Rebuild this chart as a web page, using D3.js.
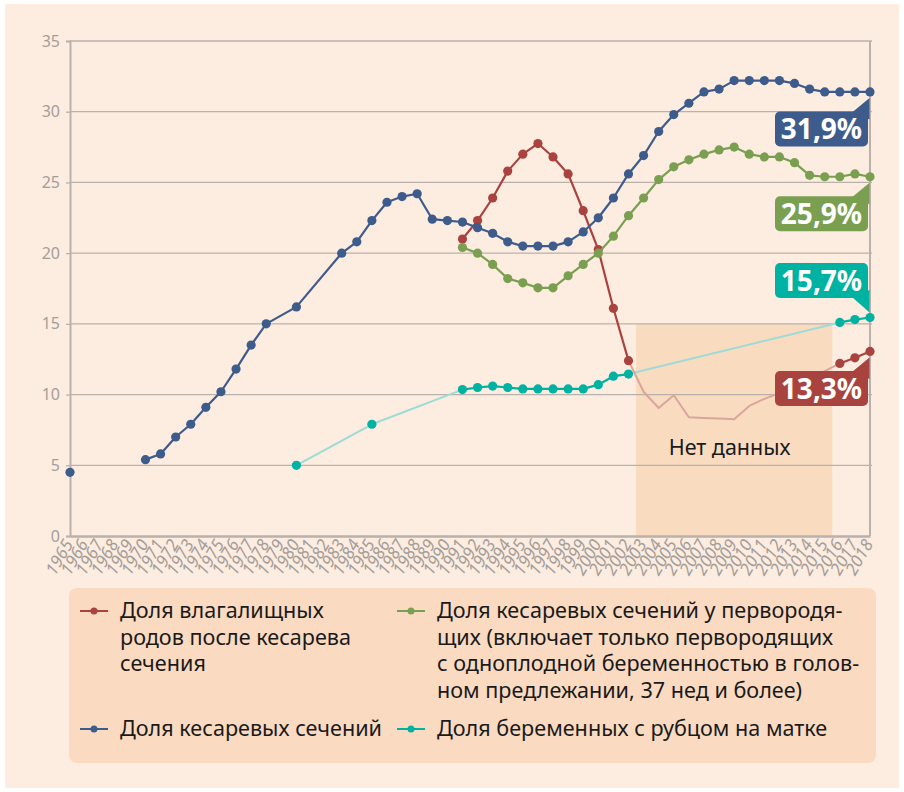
<!DOCTYPE html>
<html>
<head>
<meta charset="utf-8">
<script src="https://cdn.jsdelivr.net/npm/d3@7"></script>
<style>
  html, body { margin: 0; padding: 0; background: #ffffff; }
  svg { display: block; }
  text { font-family: "Noto Sans", "Open Sans", sans-serif; }
</style>
</head>
<body>
<svg id="chart" width="904" height="792"></svg>
<script>
// ---------------- DATA ----------------
const years = [1965,1966,1967,1968,1969,1970,1971,1972,1973,1974,1975,1976,1977,1978,1979,1980,
  1981,1982,1983,1984,1985,1986,1987,1988,1989,1990,1991,1992,1993,1994,1995,1996,1997,1998,1999,
  2000,2001,2002,2003,2004,2005,2006,2007,2008,2009,2010,2011,2012,2013,2014,2015,2016,2017,2018];

const yTicks = [0, 5, 10, 15, 20, 25, 30, 35];

// Доля кесаревых сечений
const csValues = [4.5,null,null,null,null,5.4,5.8,7.0,7.9,9.1,10.2,11.8,13.5,15.0,null,16.2,
  null,null,20.0,20.8,22.3,23.6,24.0,24.2,22.4,22.3,22.2,21.8,21.4,20.8,20.5,20.5,20.5,20.8,21.5,
  22.5,23.9,25.6,26.9,28.6,29.8,30.6,31.4,31.6,32.2,32.2,32.2,32.2,32.0,31.6,31.4,31.4,31.4,31.4];
const csLineStart = 1970;

// Доля влагалищных родов после кесарева сечения
const vbacValues = [null,null,null,null,null,null,null,null,null,null,null,null,null,null,null,null,
  null,null,null,null,null,null,null,null,null,null,21.0,22.3,23.9,25.8,27.0,27.75,26.8,25.6,23.0,
  20.25,16.1,12.4,null,null,null,null,null,null,null,null,null,null,null,null,null,12.2,12.6,13.05];
// no-data period (drawn faded, no markers)
const vbacGapYears = [2003,2004,2005,2006,2007,2008,2009,2010,2011,2012,2013,2014,2015];
const vbacGapValues = [10.2,9.05,9.95,8.4,8.35,8.3,8.25,9.2,9.7,10.1,10.6,11.1,11.65];
const vbacFaded = [[2002, 2016]];

// Доля кесаревых сечений у первородящих
const nulliValues = [null,null,null,null,null,null,null,null,null,null,null,null,null,null,null,null,
  null,null,null,null,null,null,null,null,null,null,20.4,20.0,19.2,18.2,17.9,17.55,17.55,18.4,19.2,
  20.0,21.2,22.65,23.9,25.2,26.1,26.6,27.0,27.3,27.5,27.0,26.8,26.8,26.4,25.5,25.4,25.4,25.6,25.4];

// Доля беременных с рубцом на матке
const scarValues = [null,null,null,null,null,null,null,null,null,null,null,null,null,null,null,5.0,
  null,null,null,null,7.9,null,null,null,null,null,10.35,10.5,10.6,10.5,10.4,10.4,10.4,10.4,10.4,
  10.7,11.3,11.45,null,null,null,null,null,null,null,null,null,null,null,null,null,15.1,15.3,15.45];
const scarFaded = [[1980, 1991], [2002, 2016]];

const noDataSpan = [2002.5, 2015.5];
const noDataTop = 15;
const noDataLabel = "Нет данных";

const endLabels = ["31,9%", "25,9%", "15,7%", "13,3%"];

const legendItems = [
  { lines: ["Доля влагалищных", "родов после кесарева", "сечения"] },
  { lines: ["Доля кесаревых сечений у первородя-",
            "щих (включает только первородящих",
            "с одноплодной беременностью в голов-",
            "ном предлежании, 37 нед и более)"] },
  { lines: ["Доля кесаревых сечений"] },
  { lines: ["Доля беременных с рубцом на матке"] }
];

// ---------------- STYLE ----------------
const C = {
  bg: "#fdece0", panel: "#fadbc2", shade: "#f9dbc0",
  grid: "#b9b2ac", tick: "#a49e99",
  blue: "#3d5b8b", red: "#a9433f", green: "#7a9f51", teal: "#00b2a1",
  redFade: "#dba59c", tealFade: "#9ddcd6"
};

const svg = d3.select("#chart");
svg.append("rect").attr("x", 5).attr("y", 4).attr("width", 894).attr("height", 784).attr("fill", C.bg);

const x = d3.scaleLinear().domain([1965, 2018]).range([70, 870]);
const y = d3.scaleLinear().domain([0, 35]).range([536, 41]);

// no-data shaded area
svg.append("rect")
  .attr("x", x(noDataSpan[0])).attr("width", x(noDataSpan[1]) - x(noDataSpan[0]))
  .attr("y", y(noDataTop)).attr("height", y(0) - y(noDataTop))
  .attr("fill", C.shade);

// gridlines
svg.append("g").selectAll("line").data(yTicks.filter(d => d > 0)).join("line")
  .attr("x1", 70).attr("x2", 872).attr("y1", d => y(d)).attr("y2", d => y(d))
  .attr("stroke", C.grid).attr("stroke-width", 1.3);

// y axis
const yAxis = svg.append("g").attr("transform", "translate(70,0)")
  .call(d3.axisLeft(y).tickValues(yTicks).tickSize(4).tickPadding(6).tickFormat(d3.format("d")));
yAxis.select(".domain").attr("stroke", C.grid).attr("stroke-width", 2);
yAxis.selectAll(".tick line").attr("stroke", C.grid).attr("stroke-width", 1.3);
yAxis.selectAll(".tick text").attr("fill", C.tick).attr("font-size", 16)
  .attr("font-family", "Noto Sans, sans-serif");

// right border line
svg.append("line").attr("x1", 870).attr("x2", 870).attr("y1", y(35)).attr("y2", y(0))
  .attr("stroke", C.grid).attr("stroke-width", 2);

// x axis
const xAxis = svg.append("g").attr("transform", `translate(0,${y(0)})`)
  .call(d3.axisBottom(x).tickValues(years).tickSize(0).tickFormat(d3.format("d")));
xAxis.select(".domain").attr("stroke", C.grid).attr("stroke-width", 2.5);
xAxis.selectAll(".tick text")
  .attr("fill", C.tick).attr("font-size", 17)
  .attr("font-family", "Noto Sans, sans-serif")
  .attr("font-style", "italic")
  .attr("text-anchor", "end")
  .attr("transform", "translate(-2,5) rotate(-60)")
  .attr("dx", 0).attr("dy", "0.35em").attr("y", 0);

// no data label
svg.append("text").attr("x", x(2008.7)).attr("y", y(5.7))
  .attr("text-anchor", "middle").attr("font-size", 21.5).attr("fill", "#1a1a1a")
  .text(noDataLabel);

// ---------------- SERIES ----------------
function toPoints(values, startYear) {
  return years.map((yr, i) => ({ year: yr, v: values[i] }))
    .filter(d => d.v != null && d.year >= (startYear || -Infinity));
}
function inFaded(a, b, faded) {
  return (faded || []).some(f => a >= f[0] && b <= f[1]);
}
const lineGen = d3.line().x(d => x(d.year)).y(d => y(d.v));

function drawSeries(values, color, fadeColor, opts) {
  opts = opts || {};
  const g = svg.append("g");
  const pts = toPoints(values, opts.lineStart);
  (opts.faded || []).forEach(f => {
    let seg = pts.filter(d => d.year >= f[0] && d.year <= f[1]);
    if (opts.gapYears) {
      const gap = opts.gapYears.map((yr, i) => ({ year: yr, v: opts.gapValues[i] }))
        .filter(d => d.year > f[0] && d.year < f[1]);
      seg = seg.concat(gap).sort((a, b) => a.year - b.year);
    }
    g.append("path").attr("d", lineGen(seg)).attr("fill", "none")
      .attr("stroke", fadeColor).attr("stroke-width", 2).attr("stroke-linejoin", "round");
  });
  let run = [];
  const runs = [];
  for (let i = 0; i < pts.length; i++) {
    if (run.length && inFaded(run[run.length - 1].year, pts[i].year, opts.faded)) {
      runs.push(run); run = [];
    }
    run.push(pts[i]);
  }
  if (run.length) runs.push(run);
  runs.filter(r => r.length > 1).forEach(r => {
    g.append("path").attr("d", lineGen(r)).attr("fill", "none")
      .attr("stroke", color).attr("stroke-width", 2.2).attr("stroke-linejoin", "round");
  });
  g.selectAll("circle").data(toPoints(values)).join("circle")
    .attr("cx", d => x(d.year)).attr("cy", d => y(d.v)).attr("r", 4.6).attr("fill", color);
}

drawSeries(scarValues, C.teal, C.tealFade, { faded: scarFaded });
drawSeries(vbacValues, C.red, C.redFade, { faded: vbacFaded, gapYears: vbacGapYears, gapValues: vbacGapValues });
drawSeries(nulliValues, C.green, null, {});
drawSeries(csValues, C.blue, null, { lineStart: csLineStart });

// ---------------- END LABELS ----------------
const lastIdx = years.length - 1;
const labelDefs = [
  { text: endLabels[0], color: C.blue, v: csValues[lastIdx], below: true },
  { text: endLabels[1], color: C.green, v: nulliValues[lastIdx], below: true },
  { text: endLabels[2], color: C.teal, v: scarValues[lastIdx], below: false },
  { text: endLabels[3], color: C.red, v: vbacValues[lastIdx], below: true }
];
const boxW = 93, boxH = 35, boxRight = 868;
labelDefs.forEach(d => {
  const py = y(d.v);
  const top = d.below ? py + 19.5 : py - 19.5 - boxH;
  const g = svg.append("g");
  g.append("rect").attr("x", boxRight - boxW).attr("y", top).attr("width", boxW).attr("height", boxH)
    .attr("rx", 5).attr("fill", d.color);
  const tail = d.below
    ? [[869.5, py + 6], [852, top + 1], [869.5, top + 8]]
    : [[869.5, py - 5], [852, top + boxH - 1], [869.5, top + boxH - 8]];
  g.append("path").attr("d", "M" + tail.map(p => p.join(",")).join("L") + "Z").attr("fill", d.color);
  g.append("text").attr("x", boxRight - boxW / 2).attr("y", top + boxH / 2)
    .attr("dy", "0.36em").attr("text-anchor", "middle")
    .attr("font-size", 28).attr("font-weight", 700).attr("fill", "#ffffff")
    .text(d.text);
});

// ---------------- LEGEND ----------------
svg.append("rect").attr("x", 69).attr("y", 588).attr("width", 807).attr("height", 175)
  .attr("rx", 8).attr("fill", C.panel);

const legendPos = [
  { color: C.red, mx: 80, tx: 120, y: 611 },
  { color: C.green, mx: 397, tx: 437, y: 611 },
  { color: C.blue, mx: 80, tx: 120, y: 729 },
  { color: C.teal, mx: 397, tx: 437, y: 729 }
];
legendItems.forEach((item, i) => {
  const p = legendPos[i];
  const g = svg.append("g");
  g.append("line").attr("x1", p.mx).attr("x2", p.mx + 28).attr("y1", p.y).attr("y2", p.y)
    .attr("stroke", p.color).attr("stroke-width", 2);
  g.append("circle").attr("cx", p.mx + 14).attr("cy", p.y).attr("r", 3.5).attr("fill", p.color);
  item.lines.forEach((ln, j) => {
    g.append("text").attr("x", p.tx).attr("y", p.y + 7 + j * 26.7)
      .attr("font-size", 21.6).attr("fill", "#1a1a1a").text(ln);
  });
});
</script>
</body>
</html>
